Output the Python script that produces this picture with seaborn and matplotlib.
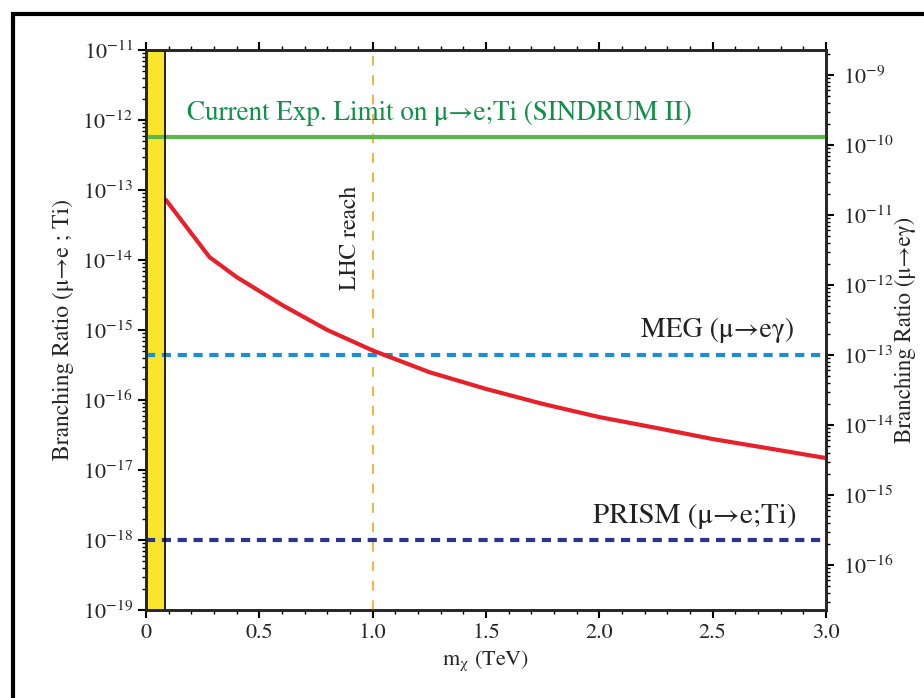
import numpy as np
import pandas as pd
import matplotlib
matplotlib.use("Agg")
import matplotlib.pyplot as plt
import matplotlib.ticker as mticker
from matplotlib.patches import Rectangle
import seaborn as sns

# --- data ---
m_chi = [0.088, 0.28, 0.4, 0.6, 0.8, 1.0, 1.25, 1.5, 1.75, 2.0, 2.25, 2.5, 2.75, 3.0]
br_mue_ti = [7.2e-14, 1.10e-14, 5.7e-15, 2.28e-15, 1.0e-15, 5.1e-16, 2.5e-16,
             1.44e-16, 8.8e-17, 5.7e-17, 4.0e-17, 2.77e-17, 2.03e-17, 1.48e-17]
sindrum_limit = 5.7e-13     # left axis
prism_reach = 1.0e-18       # left axis
meg_reach = 1.0e-13         # right axis (mu -> e gamma)
lhc_reach = 1.0             # TeV
excluded_mass = 0.085       # TeV, yellow band
ratio_eg_to_ti = 227.0      # right / left axis scale

left_ticks = [10.0**k for k in range(-19, -10)]
right_ticks = [10.0**k for k in range(-16, -8)]
x_ticks = [0, 0.5, 1.0, 1.5, 2.0, 2.5, 3.0]
x_labels = ["0", "0.5", "1.0", "1.5", "2.0", "2.5", "3.0"]

sns.set_style("ticks")
plt.rcParams['font.family'] = ['STIXGeneral', 'Liberation Serif', 'DejaVu Serif']
plt.rcParams['mathtext.fontset'] = 'stix'
plt.rcParams['mathtext.default'] = 'regular'

fig = plt.figure(figsize=(9.24, 6.98), dpi=100)
ax = fig.add_axes([146/924, 1-610/698, 680/924, 560/698])

df = pd.DataFrame({"m": m_chi, "br": br_mue_ti})
sns.lineplot(data=df, x="m", y="br", ax=ax, color="#e8202a", lw=3.0, zorder=5)

ax.set_yscale("log")
ax.set_ylim(1e-19, 1e-11)
ax.set_xlim(0, 3.0)

ax.axvspan(0, excluded_mass, facecolor="#f9e52c", edgecolor="none", zorder=1)
ax.axvline(excluded_mass, color="black", lw=1.2, zorder=6)
ax.axhline(sindrum_limit, color="#5cb84a", lw=3.0, zorder=4)
ax.axhline(prism_reach, color="#2b3590", lw=3.0, ls=(0, (2.2, 1.6)), zorder=4)
ax.axhline(meg_reach / ratio_eg_to_ti, color="#1a8fd6", lw=3.0, ls=(0, (2.2, 1.6)), zorder=4)
ax.axvline(lhc_reach, color="#f0b440", lw=1.4, ls=(0, (5, 5)), zorder=3)

fmt = mticker.FuncFormatter(lambda v, p: "10$^{-%d}$" % round(-np.log10(v)))
ax.yaxis.set_major_locator(mticker.FixedLocator(left_ticks))
ax.yaxis.set_major_formatter(fmt)
ax.yaxis.set_minor_locator(mticker.LogLocator(base=10, subs=np.arange(2, 10), numticks=50))
ax.yaxis.set_minor_formatter(mticker.NullFormatter())
ax.set_xticks(x_ticks)
ax.set_xticklabels(x_labels)
ax.xaxis.set_minor_locator(mticker.MultipleLocator(0.1))
ax.tick_params(axis="x", which="both", top=True, direction="out")
ax.tick_params(which="major", length=6, width=1.5, labelsize=16, color="black")
ax.tick_params(which="minor", length=3, width=1.0, color="black")
for s in ax.spines.values():
    s.set_linewidth(1.8)
    s.set_color("black")

ax.set_xlabel("m$_{χ}$ (TeV)", fontsize=16, labelpad=4)
ax.set_ylabel("Branching Ratio (μ→e ; Ti)", fontsize=17, labelpad=6)

ax2 = ax.twinx()
ax2.set_yscale("log")
ax2.set_ylim(1e-19 * ratio_eg_to_ti, 1e-11 * ratio_eg_to_ti)
ax2.yaxis.set_major_locator(mticker.FixedLocator(right_ticks))
ax2.yaxis.set_major_formatter(fmt)
ax2.yaxis.set_minor_locator(mticker.LogLocator(base=10, subs=np.arange(2, 10), numticks=50))
ax2.yaxis.set_minor_formatter(mticker.NullFormatter())
ax2.tick_params(which="major", length=6, width=1.5, labelsize=16, color="black", pad=6)
ax2.tick_params(which="minor", length=3, width=1.0, color="black")
for s in ax2.spines.values():
    s.set_linewidth(1.8)
ax2.set_ylabel("Branching Ratio (μ→eγ)", fontsize=16.5, labelpad=1)

ax.text(0.18, 1.26e-12, "Current Exp. Limit on μ→e;Ti (SINDRUM II)", color="#11904a",
        fontsize=19.5, va="center", ha="left", zorder=7)
ax.text(2.86, 1.0e-15, "MEG (μ→eγ)", color="#222222", fontsize=20,
        va="center", ha="right", zorder=7)
ax.text(2.87, 2.2e-18, "PRISM (μ→e;Ti)", color="#222222", fontsize=21,
        va="center", ha="right", zorder=7)
ax.text(0.90, 2.1e-14, "LHC reach", color="#222222", fontsize=17, rotation=90,
        va="center", ha="center", zorder=7)

fig.patches.append(Rectangle((13/924, -0.2), 1.2, 0.2 + 1 - 14/698, transform=fig.transFigure,
                             fill=False, edgecolor="black", lw=3.0))

fig.savefig("out.png", dpi=100)
